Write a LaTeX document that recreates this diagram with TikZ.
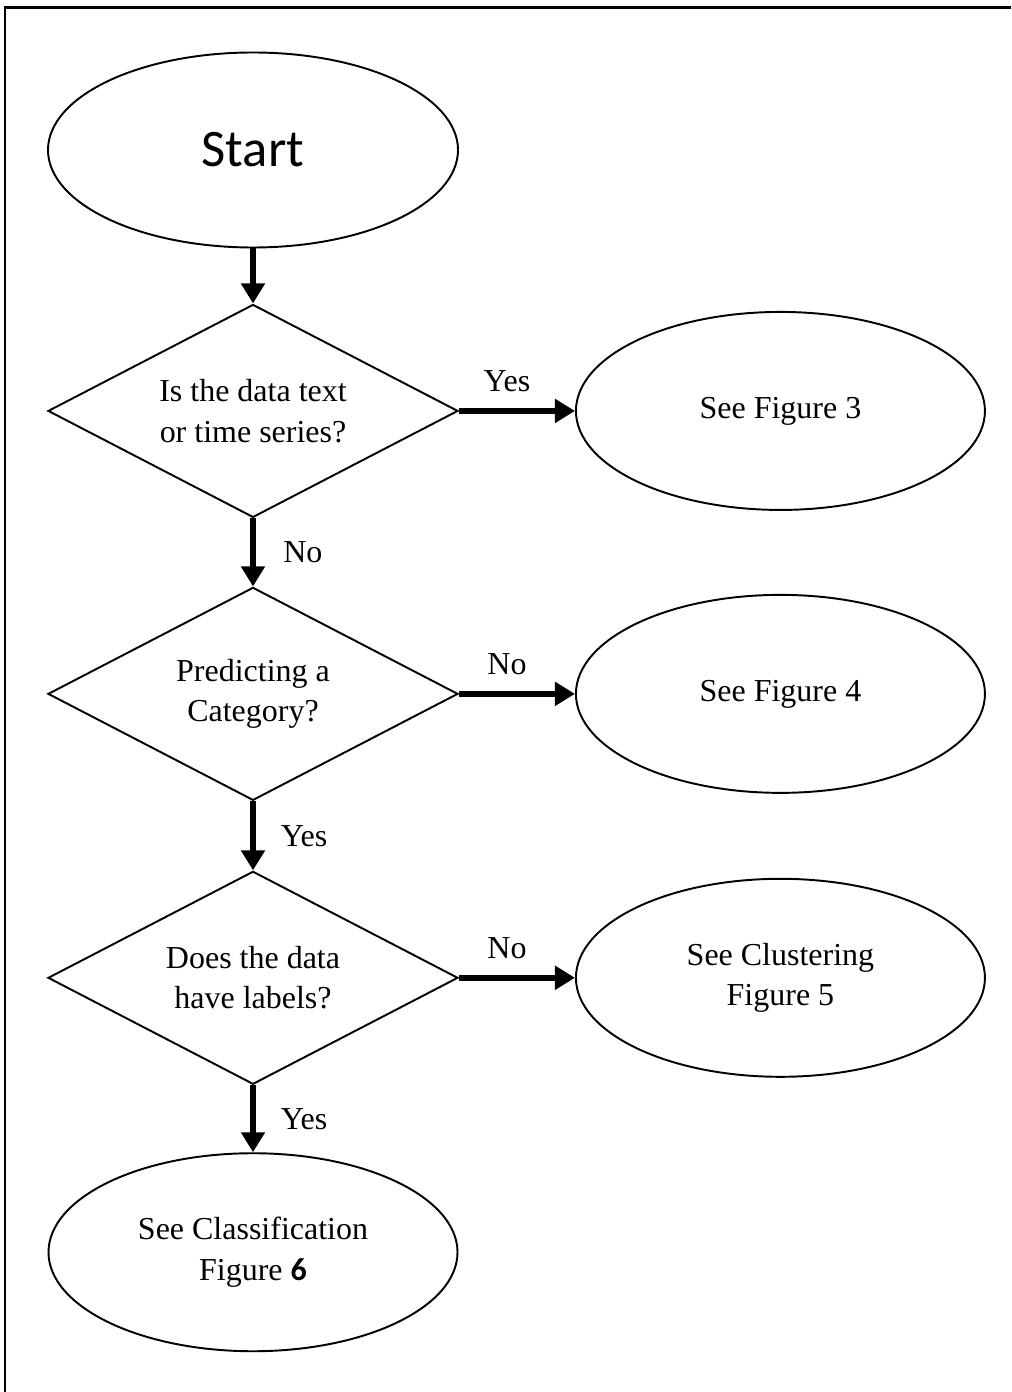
\documentclass[tikz,border=0pt]{standalone}
\usepackage{fontspec}
\setmainfont{Liberation Serif}
\newfontfamily\calibri{Carlito}
\usetikzlibrary{arrows.meta,positioning,shapes.geometric}

\begin{document}
\begin{tikzpicture}[-{Triangle[length=4mm,width=4.6mm]},line width=3.2pt,font=\fontsize{18.2}{23}\selectfont,
  term/.style={ellipse,draw,line width=1.1pt,minimum width=8.18cm,minimum height=3.96cm,inner sep=0pt,align=center},
  ques/.style={diamond,draw,line width=1.1pt,aspect=2,minimum width=8.2cm,minimum height=4.26cm,inner sep=0pt,align=center}]
  \useasboundingbox (0,0) rectangle (20.22,-27.84);
  \draw[-,line width=1.7pt] (0.1,-27.84) -- (0.1,-0.16) -- (20.22,-0.16);

  \node[term, minimum width=8.2cm, minimum height=3.9cm, font=\calibri\fontsize{30}{35}\selectfont] (start) at (5.06,-3.0) {Start};
  \node[ques] (text) [below=1.1cm of start] {Is the data text\\or time series?};
  \node[term] (fig3) [right=2.32cm of text] {See Figure 3};
  \node[ques] (cat) [below=1.36cm of text] {Predicting a\\Category?};
  \node[term] (fig4) [right=2.32cm of cat] {See Figure 4};
  \node[ques] (lab) [below=1.38cm of cat] {Does the data\\have labels?};
  \node[term] (fig5) [right=2.32cm of lab] {See Clustering\\Figure 5};
  \node[term] (fig6) [below=1.34cm of lab] {See Classification\\Figure {\calibri\bfseries 6}};

  \path[every node/.style={inner sep=0pt}]
    (start) edge (text)
    (text) edge node[above=0.32cm, xshift=-0.2cm] {Yes} (fig3)
           edge node[right=0.55cm] {No} (cat)
    (cat) edge node[above=0.32cm, xshift=-0.2cm] {No} (fig4)
          edge node[right=0.5cm] {Yes} (lab)
    (lab) edge node[above=0.32cm, xshift=-0.2cm] {No} (fig5)
          edge node[right=0.5cm] {Yes} (fig6);
\end{tikzpicture}
\end{document}
